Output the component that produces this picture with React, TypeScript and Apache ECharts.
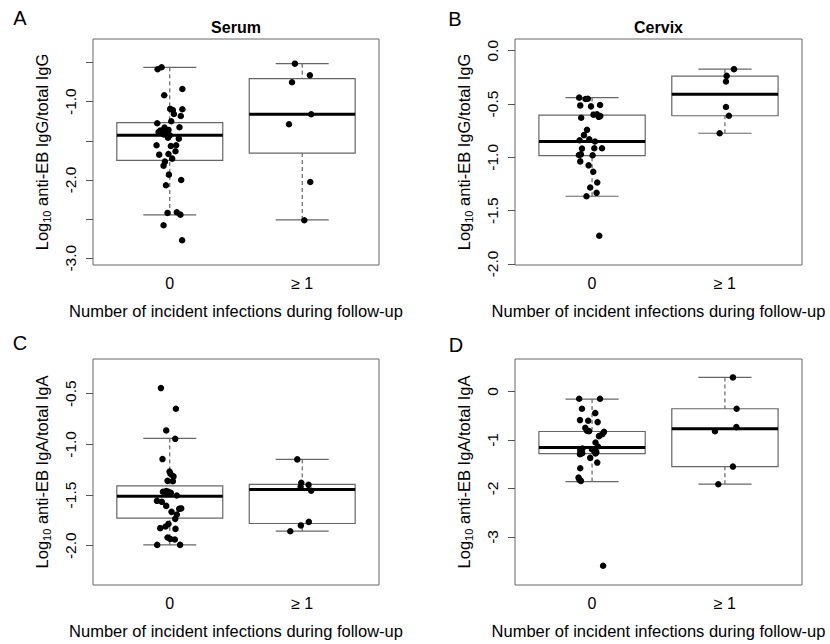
import React, { useEffect, useRef } from "react";
import * as echarts from "echarts";

// ---------- data ----------
const categories = ["0", "≥ 1"];
const xAxisTitle = "Number of incident infections during follow-up";
const panelLetters = ["A", "B", "C", "D"];
const panelTitles = ["Serum", "Cervix", "", ""];
const yTitlesIg = ["IgG", "IgG", "IgA", "IgA"];

// box stats per group: [lower whisker, Q1, median, Q3, upper whisker]
const serumIgGBox = [
  [-2.447, -1.749, -1.43, -1.268, -0.562],
  [-2.511, -1.657, -1.161, -0.706, -0.515],
];
const cervixIgGBox = [
  [-1.365, -0.984, -0.852, -0.604, -0.44],
  [-0.774, -0.61, -0.409, -0.239, -0.173],
];
const serumIgABox = [
  [-1.992, -1.728, -1.511, -1.409, -0.941],
  [-1.857, -1.781, -1.445, -1.395, -1.148],
];
const cervixIgABox = [
  [-1.858, -1.28, -1.156, -0.826, -0.157],
  [-1.912, -1.549, -0.77, -0.357, 0.289],
];

// jittered points: [x position (group 1 or 2 + jitter), value]
const serumIgGPoints = [
  [0.908, -0.586], [0.938, -0.561], [1.095, -0.838], [0.958, -0.918], [1.003, -1.093],
  [1.023, -1.106], [1.095, -1.097], [1.031, -1.157], [1.083, -1.183], [1.011, -1.25],
  [0.905, -1.276], [1.073, -1.327], [0.96, -1.332], [0.99, -1.361], [0.928, -1.37],
  [0.948, -1.396], [0.915, -1.387], [0.973, -1.404], [0.955, -1.42], [1.0, -1.43],
  [0.986, -1.46], [1.068, -1.473], [0.9, -1.557], [1.008, -1.566], [1.048, -1.557],
  [1.043, -1.634], [0.92, -1.677], [0.99, -1.668], [1.018, -1.728], [0.963, -1.766],
  [0.953, -1.817], [0.993, -1.932], [1.086, -2.0], [0.971, -2.068], [0.983, -2.421],
  [1.053, -2.413], [1.08, -2.443], [0.953, -2.579], [1.093, -2.77],
  [1.945, -0.515], [2.058, -0.663], [1.923, -0.752], [2.068, -1.161], [1.9, -1.289],
  [2.061, -2.026], [2.016, -2.515],
];
const cervixIgGPoints = [
  [0.903, -0.44], [0.951, -0.453], [0.968, -0.45], [0.911, -0.513], [0.992, -0.522],
  [1.06, -0.509], [0.918, -0.629], [1.011, -0.6], [1.037, -0.597], [1.062, -0.613],
  [1.05, -0.62], [0.962, -0.742], [0.939, -0.792], [0.906, -0.84], [0.979, -0.83],
  [1.022, -0.852], [0.924, -0.918], [1.017, -0.915], [1.075, -0.915], [0.901, -0.978],
  [0.916, -0.972], [1.004, -0.981], [0.911, -1.038], [0.974, -1.075], [1.009, -1.135],
  [1.039, -1.236], [0.986, -1.283], [1.034, -1.333], [0.958, -1.365], [1.054, -1.736],
  [2.068, -0.173], [2.013, -0.236], [2.008, -0.289], [2.008, -0.528], [2.03, -0.61],
  [1.96, -0.774],
];
const serumIgAPoints = [
  [0.933, -0.444], [1.046, -0.648], [0.973, -0.862], [1.041, -0.945], [0.945, -1.145],
  [0.998, -1.267], [1.005, -1.29], [1.028, -1.316], [0.983, -1.36], [1.023, -1.363],
  [0.948, -1.468], [0.973, -1.461], [0.99, -1.468], [1.008, -1.478], [1.053, -1.504],
  [0.976, -1.484], [0.903, -1.557], [0.94, -1.567], [0.973, -1.607], [1.071, -1.636],
  [1.086, -1.632], [1.013, -1.666], [1.053, -1.692], [1.041, -1.735], [0.99, -1.785],
  [0.968, -1.81], [0.928, -1.827], [1.043, -1.834], [0.983, -1.919], [1.003, -1.933],
  [1.038, -1.939], [0.905, -1.992], [1.078, -1.992],
  [1.963, -1.148], [1.993, -1.379], [2.048, -1.399], [1.988, -1.419], [2.068, -1.458],
  [2.05, -1.765], [1.99, -1.8], [1.91, -1.857],
];
const cervixIgAPoints = [
  [0.903, -0.151], [1.06, -0.151], [0.924, -0.357], [1.024, -0.446], [0.909, -0.591],
  [0.971, -0.605], [1.042, -0.632], [0.949, -0.75], [0.962, -0.811], [0.977, -0.818],
  [1.09, -0.832], [1.077, -0.88], [1.052, -0.921], [1.026, -1.053], [1.044, -1.135],
  [0.928, -1.177], [0.911, -1.21], [0.999, -1.19], [1.019, -1.239], [0.909, -1.293],
  [0.926, -1.272], [0.986, -1.369], [1.026, -1.28], [1.032, -1.251], [1.039, -1.466],
  [0.911, -1.582], [0.898, -1.776], [0.906, -1.823], [0.916, -1.844], [1.083, -3.593],
  [2.06, 0.289], [2.088, -0.357], [2.086, -0.735], [1.925, -0.818], [2.06, -1.549],
  [1.95, -1.912],
];

// y axis ranges, ticks and labelled ticks
const yMins = [-3.086, -2.01, -2.388, -3.99];
const yMaxs = [-0.2, 0.11, -0.157, 0.669];
const yTicks = [
  [-0.5, -1, -1.5, -2, -2.5, -3],
  [0, -0.5, -1, -1.5, -2],
  [-0.5, -1, -1.5, -2],
  [0, -1, -2, -3],
];
const yLabelTicks = [
  [-1, -2, -3],
  [0, -0.5, -1, -1.5, -2],
  [-0.5, -1, -1.5, -2],
  [0, -1, -2, -3],
];
const yDecimals = [1, 1, 1, 0];

const boxes = [serumIgGBox, cervixIgGBox, serumIgABox, cervixIgABox];
const points = [serumIgGPoints, cervixIgGPoints, serumIgAPoints, cervixIgAPoints];

// ---------- layout ----------
const grids = [
  { left: 93, top: 39, width: 286, height: 226 },
  { left: 515, top: 39, width: 287, height: 226 },
  { left: 93, top: 359, width: 286, height: 226 },
  { left: 515, top: 359, width: 287, height: 226 },
];
const letterPos = [
  [20, 18],
  [455, 19],
  [20, 343],
  [456, 345],
];
const FONT = '"Liberation Sans", Arial, sans-serif';

export default function App() {
  const ref = useRef<HTMLDivElement>(null);
  useEffect(() => {
    if (!ref.current) return;
    const chart = echarts.init(ref.current, undefined, { renderer: "svg" });

    const renderBox = (params: any, api: any) => {
      const x = api.value(0);
      const low = api.value(1);
      const q1 = api.value(2);
      const med = api.value(3);
      const q3 = api.value(4);
      const high = api.value(5);
      const hw = 0.4;
      const cw = 0.2;
      const tl = api.coord([x - hw, q3]);
      const br = api.coord([x + hw, q1]);
      const cHigh = api.coord([x, high]);
      const cLow = api.coord([x, low]);
      const cQ3 = api.coord([x, q3]);
      const cQ1 = api.coord([x, q1]);
      const mL = api.coord([x - hw, med]);
      const mR = api.coord([x + hw, med]);
      const capL = api.coord([x - cw, high]);
      const capR = api.coord([x + cw, high]);
      const capLl = api.coord([x - cw, low]);
      const capRl = api.coord([x + cw, low]);
      const gray = "#666";
      return {
        type: "group",
        children: [
          {
            type: "line",
            shape: { x1: cHigh[0], y1: cHigh[1], x2: cQ3[0], y2: cQ3[1] },
            style: { stroke: "#444", lineWidth: 1, lineDash: [4, 3] },
          },
          {
            type: "line",
            shape: { x1: cLow[0], y1: cLow[1], x2: cQ1[0], y2: cQ1[1] },
            style: { stroke: "#444", lineWidth: 1, lineDash: [4, 3] },
          },
          {
            type: "line",
            shape: { x1: capL[0], y1: capL[1], x2: capR[0], y2: capR[1] },
            style: { stroke: gray, lineWidth: 1.2 },
          },
          {
            type: "line",
            shape: { x1: capLl[0], y1: capLl[1], x2: capRl[0], y2: capRl[1] },
            style: { stroke: gray, lineWidth: 1.2 },
          },
          {
            type: "rect",
            shape: { x: tl[0], y: tl[1], width: br[0] - tl[0], height: br[1] - tl[1] },
            style: { stroke: gray, fill: "none", lineWidth: 1.2 },
          },
          {
            type: "line",
            shape: { x1: mL[0], y1: mL[1], x2: mR[0], y2: mR[1] },
            style: { stroke: "#000", lineWidth: 3 },
          },
        ],
      };
    };

    const xAxes = grids.map((_, i) => ({
      type: "value",
      gridIndex: i,
      min: 0.42,
      max: 2.58,
      axisLine: { show: false },
      axisTick: { show: false },
      splitLine: { show: false },
      axisLabel: {
        customValues: [1, 2],
        formatter: (v: number) => categories[Math.round(v) - 1] ?? "",
        fontSize: 16,
        color: "#000",
        fontFamily: FONT,
        margin: 10,
      },
      name: xAxisTitle,
      nameLocation: "middle",
      nameGap: 37,
      nameTextStyle: { fontSize: 16.5, color: "#000", fontFamily: FONT },
    }));

    const yAxes = grids.map((_, i) => ({
      type: "value",
      gridIndex: i,
      min: yMins[i],
      max: yMaxs[i],
      axisLine: { show: false },
      splitLine: { show: false },
      axisTick: {
        show: true,
        customValues: yTicks[i],
        length: 7,
        lineStyle: { color: "#555", width: 1 },
      },
      axisLabel: {
        customValues: yLabelTicks[i],
        formatter: (v: number) => v.toFixed(yDecimals[i]),
        rotate: 90,
        fontSize: 15.5,
        color: "#000",
        fontFamily: FONT,
        margin: 15,
      },
      name: `{a|Log}{s|10}{a| anti-EB ${yTitlesIg[i]}/total ${yTitlesIg[i]}}`,
      nameLocation: "middle",
      nameRotate: 90,
      nameGap: 41,
      nameTextStyle: {
        fontFamily: FONT,
        color: "#000",
        rich: {
          a: { fontSize: 16.5, fontFamily: FONT, color: "#000", lineHeight: 20 },
          s: {
            fontSize: 11,
            fontFamily: FONT,
            color: "#000",
            lineHeight: 20,
            verticalAlign: "bottom",
          },
        },
      },
    }));

    const series: any[] = [];
    grids.forEach((_, i) => {
      series.push({
        type: "custom",
        xAxisIndex: i,
        yAxisIndex: i,
        renderItem: renderBox,
        encode: { x: 0, y: [1, 2, 3, 4, 5] },
        data: boxes[i].map((b, g) => [g + 1, ...b]),
        z: 2,
        silent: true,
      });
      series.push({
        type: "scatter",
        xAxisIndex: i,
        yAxisIndex: i,
        symbol: "circle",
        symbolSize: 6.5,
        itemStyle: { color: "#000", opacity: 1 },
        data: points[i],
        z: 3,
        silent: true,
      });
    });

    const graphics: any[] = [];
    panelLetters.forEach((l, i) => {
      graphics.push({
        type: "text",
        x: letterPos[i][0],
        y: letterPos[i][1],
        style: {
          text: l,
          fontSize: 20,
          fontFamily: FONT,
          fill: "#000",
          align: "center",
          verticalAlign: "middle",
        },
      });
      if (panelTitles[i]) {
        graphics.push({
          type: "text",
          x: grids[i].left + grids[i].width / 2,
          y: 27,
          style: {
            text: panelTitles[i],
            fontSize: 16,
            fontWeight: "bold",
            fontFamily: FONT,
            fill: "#000",
            align: "center",
            verticalAlign: "middle",
          },
        });
      }
    });

    chart.setOption({
      animation: false,
      backgroundColor: "#fff",
      textStyle: { fontFamily: FONT },
      grid: grids.map((g) => ({
        ...g,
        show: true,
        borderColor: "#666",
        borderWidth: 1,
        backgroundColor: "transparent",
        containLabel: false,
      })),
      xAxis: xAxes,
      yAxis: yAxes,
      series,
      graphic: graphics,
    });

    return () => chart.dispose();
  }, []);

  return (
    <div
      ref={ref}
      style={{ position: "absolute", left: 0, top: 0, width: 830, height: 644, background: "#fff" }}
    />
  );
}
